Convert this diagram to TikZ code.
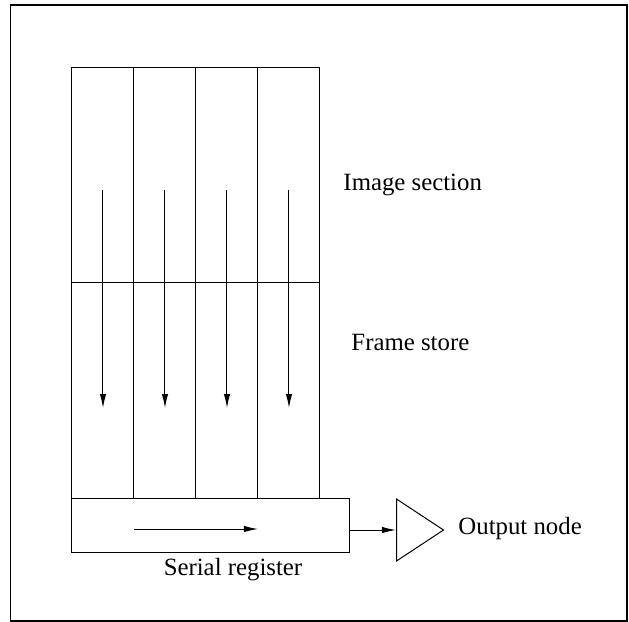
\documentclass[tikz,border=0pt]{standalone}
\usepackage{fontspec}
\setmainfont{Liberation Serif}
\usetikzlibrary{arrows.meta, positioning, shapes.geometric, calc}
\tikzset{
  every picture/.style={line width=0.5pt},
  column/.style={draw, rectangle, inner sep=0pt, minimum width=31pt, minimum height=215.5pt},
  register/.style={draw, rectangle, inner sep=0pt, minimum width=139pt, minimum height=27pt},
  amp/.style={draw, isosceles triangle, isosceles triangle stretches, inner sep=0pt, minimum width=31pt, minimum height=23.5pt},
  flow/.style={-{Latex[length=7pt, width=3.2pt]}},
  label/.style={font=\fontsize{12.4}{15}\selectfont, inner sep=0pt},
}

\begin{document}
\begin{tikzpicture}[x=0.5pt, y=-0.5pt]
  \useasboundingbox (0,0) rectangle (629,622);
  \draw[line width=0.8pt] (10.5,5) rectangle (627,621);
  % the four columns
  \foreach \i/\x in {1/103, 2/165, 3/227, 4/289} {
    \node[column] (col\i) at (\x,282.5) {};
    \coordinate (top\i) at (\x,190);
    \coordinate (bot\i) at (\x,408);
    \draw[flow] (top\i) -- (bot\i);
  }
  \draw (col1.west) -- (col4.east);
  \node[register] (sreg) at (211,525) {};
  \coordinate (shiftA) at (134,529);
  \coordinate (shiftB) at (258,529);
  \draw[flow] (shiftA) -- (shiftB);
  \node[amp, anchor=west] (out) at (396,530) {};
  \draw[flow] (sreg.east |- out.west) -- (out.west);
  % labels
  \node[label, anchor=west] (lImage) at (343,185) {Image section};
  \node[label, anchor=west] (lFrame) at (351,342) {Frame store};
  \node[label] (lReg) at (233,570) {Serial register};
  \node[label, anchor=west] (lOut) at (458,529) {Output node};
\end{tikzpicture}
\end{document}
